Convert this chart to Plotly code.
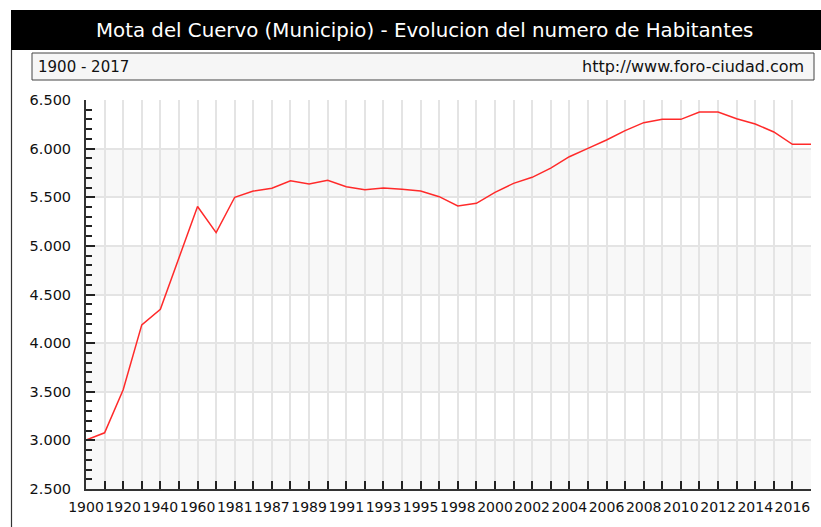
import plotly.graph_objects as go

years = ["1900", "1910", "1920", "1930", "1940", "1950", "1960", "1970", "1981",
         "1986", "1987", "1988", "1989", "1990", "1991", "1992", "1993", "1994",
         "1995", "1996", "1998", "1999", "2000", "2001", "2002", "2003", "2004",
         "2005", "2006", "2007", "2008", "2009", "2010", "2011", "2012", "2013",
         "2014", "2015", "2016", "2017"]
habitantes = [3004, 3078, 3520, 4188, 4348, 4880, 5405, 5136, 5500,
              5564, 5592, 5670, 5636, 5674, 5609, 5578, 5595, 5581,
              5564, 5506, 5410, 5438, 5551, 5643, 5705, 5800, 5917,
              6003, 6089, 6185, 6267, 6301, 6301, 6377, 6377, 6308,
              6253, 6171, 6044, 6044]
tick_text = [y if i % 2 == 0 else "" for i, y in enumerate(years)]
y_min, y_max, y_step = 2500, 6500, 500

W, H = 821, 527
L, R, T, B = 86, 811, 100, 489


def px(x):
    return (x - L) / (R - L)


def py(y):
    return (B - y) / (B - T)


FONT = "DejaVu Sans"

fig = go.Figure()
fig.add_trace(go.Scatter(x=years, y=habitantes, mode="lines",
                         line=dict(color="#ff2a2a", width=1.5),
                         hoverinfo="x+y"))

shapes = []
k = 0
v = y_min
while v < y_max:
    if k % 2 == 0:
        shapes.append(dict(type="rect", xref="paper", yref="y", x0=0, x1=1,
                           y0=v, y1=v + y_step, fillcolor="#f8f8f8",
                           line=dict(width=0), layer="below"))
    v += y_step
    k += 1

shapes.append(dict(type="rect", xref="paper", yref="paper",
                   x0=px(11), x1=px(822), y0=py(50), y1=py(10),
                   fillcolor="#000000", line=dict(width=0)))
shapes.append(dict(type="rect", xref="paper", yref="paper",
                   x0=px(32), x1=px(814), y0=py(80), y1=py(53),
                   fillcolor="#f6f6f6", line=dict(color="#444444", width=1)))
shapes.append(dict(type="line", xref="paper", yref="paper",
                   x0=px(11.5), x1=px(11.5), y0=py(528), y1=py(50),
                   line=dict(color="#333333", width=1.2)))

annotations = [
    dict(text="Mota del Cuervo (Municipio) - Evolucion del numero de Habitantes",
         xref="paper", yref="paper", x=px(424), y=py(31), showarrow=False,
         xanchor="center", yanchor="middle",
         font=dict(family=FONT, size=19.8, color="#ffffff")),
    dict(text="1900 - 2017", xref="paper", yref="paper", x=px(36), y=py(67),
         showarrow=False, xanchor="left", yanchor="middle",
         font=dict(family=FONT, size=15, color="#111111")),
    dict(text="http://www.foro-ciudad.com", xref="paper", yref="paper",
         x=px(806), y=py(67), showarrow=False, xanchor="right", yanchor="middle",
         font=dict(family=FONT, size=16, color="#111111")),
]

fig.update_layout(
    width=W, height=H,
    margin=dict(l=L, r=W - R, t=T, b=H - B, pad=0),
    paper_bgcolor="#ffffff", plot_bgcolor="#ffffff",
    showlegend=False,
    separators=",.",
    shapes=shapes,
    annotations=annotations,
    font=dict(family=FONT, size=14, color="#111111"),
)
fig.update_xaxes(type="category", range=[0, len(years) - 1],
                 tickmode="array", tickvals=years, ticktext=tick_text,
                 ticks="inside", ticklen=8, tickwidth=2, tickcolor="#222222",
                 showgrid=True, gridcolor="#e4e4e4", gridwidth=2,
                 showline=True, linecolor="#333333", linewidth=2,
                 tickangle=0, zeroline=False, ticklabelstandoff=4,
                 tickfont=dict(family=FONT, size=14, color="#111111"))
fig.update_yaxes(range=[y_min, y_max], dtick=y_step, tick0=y_min,
                 tickformat=",d",
                 ticks="inside", ticklen=9, tickwidth=2, tickcolor="#222222",
                 minor=dict(dtick=100, ticks="inside", ticklen=6, tickwidth=2,
                            tickcolor="#222222", showgrid=False),
                 showgrid=True, gridcolor="#e4e4e4", gridwidth=2,
                 showline=True, linecolor="#333333", linewidth=2,
                 zeroline=False, ticklabelstandoff=10,
                 tickfont=dict(family=FONT, size=14.5, color="#111111"))

fig.write_html("out.html", config={"displayModeBar": False},
               post_script="document.body.style.margin='0px';document.body.style.padding='0px';")
